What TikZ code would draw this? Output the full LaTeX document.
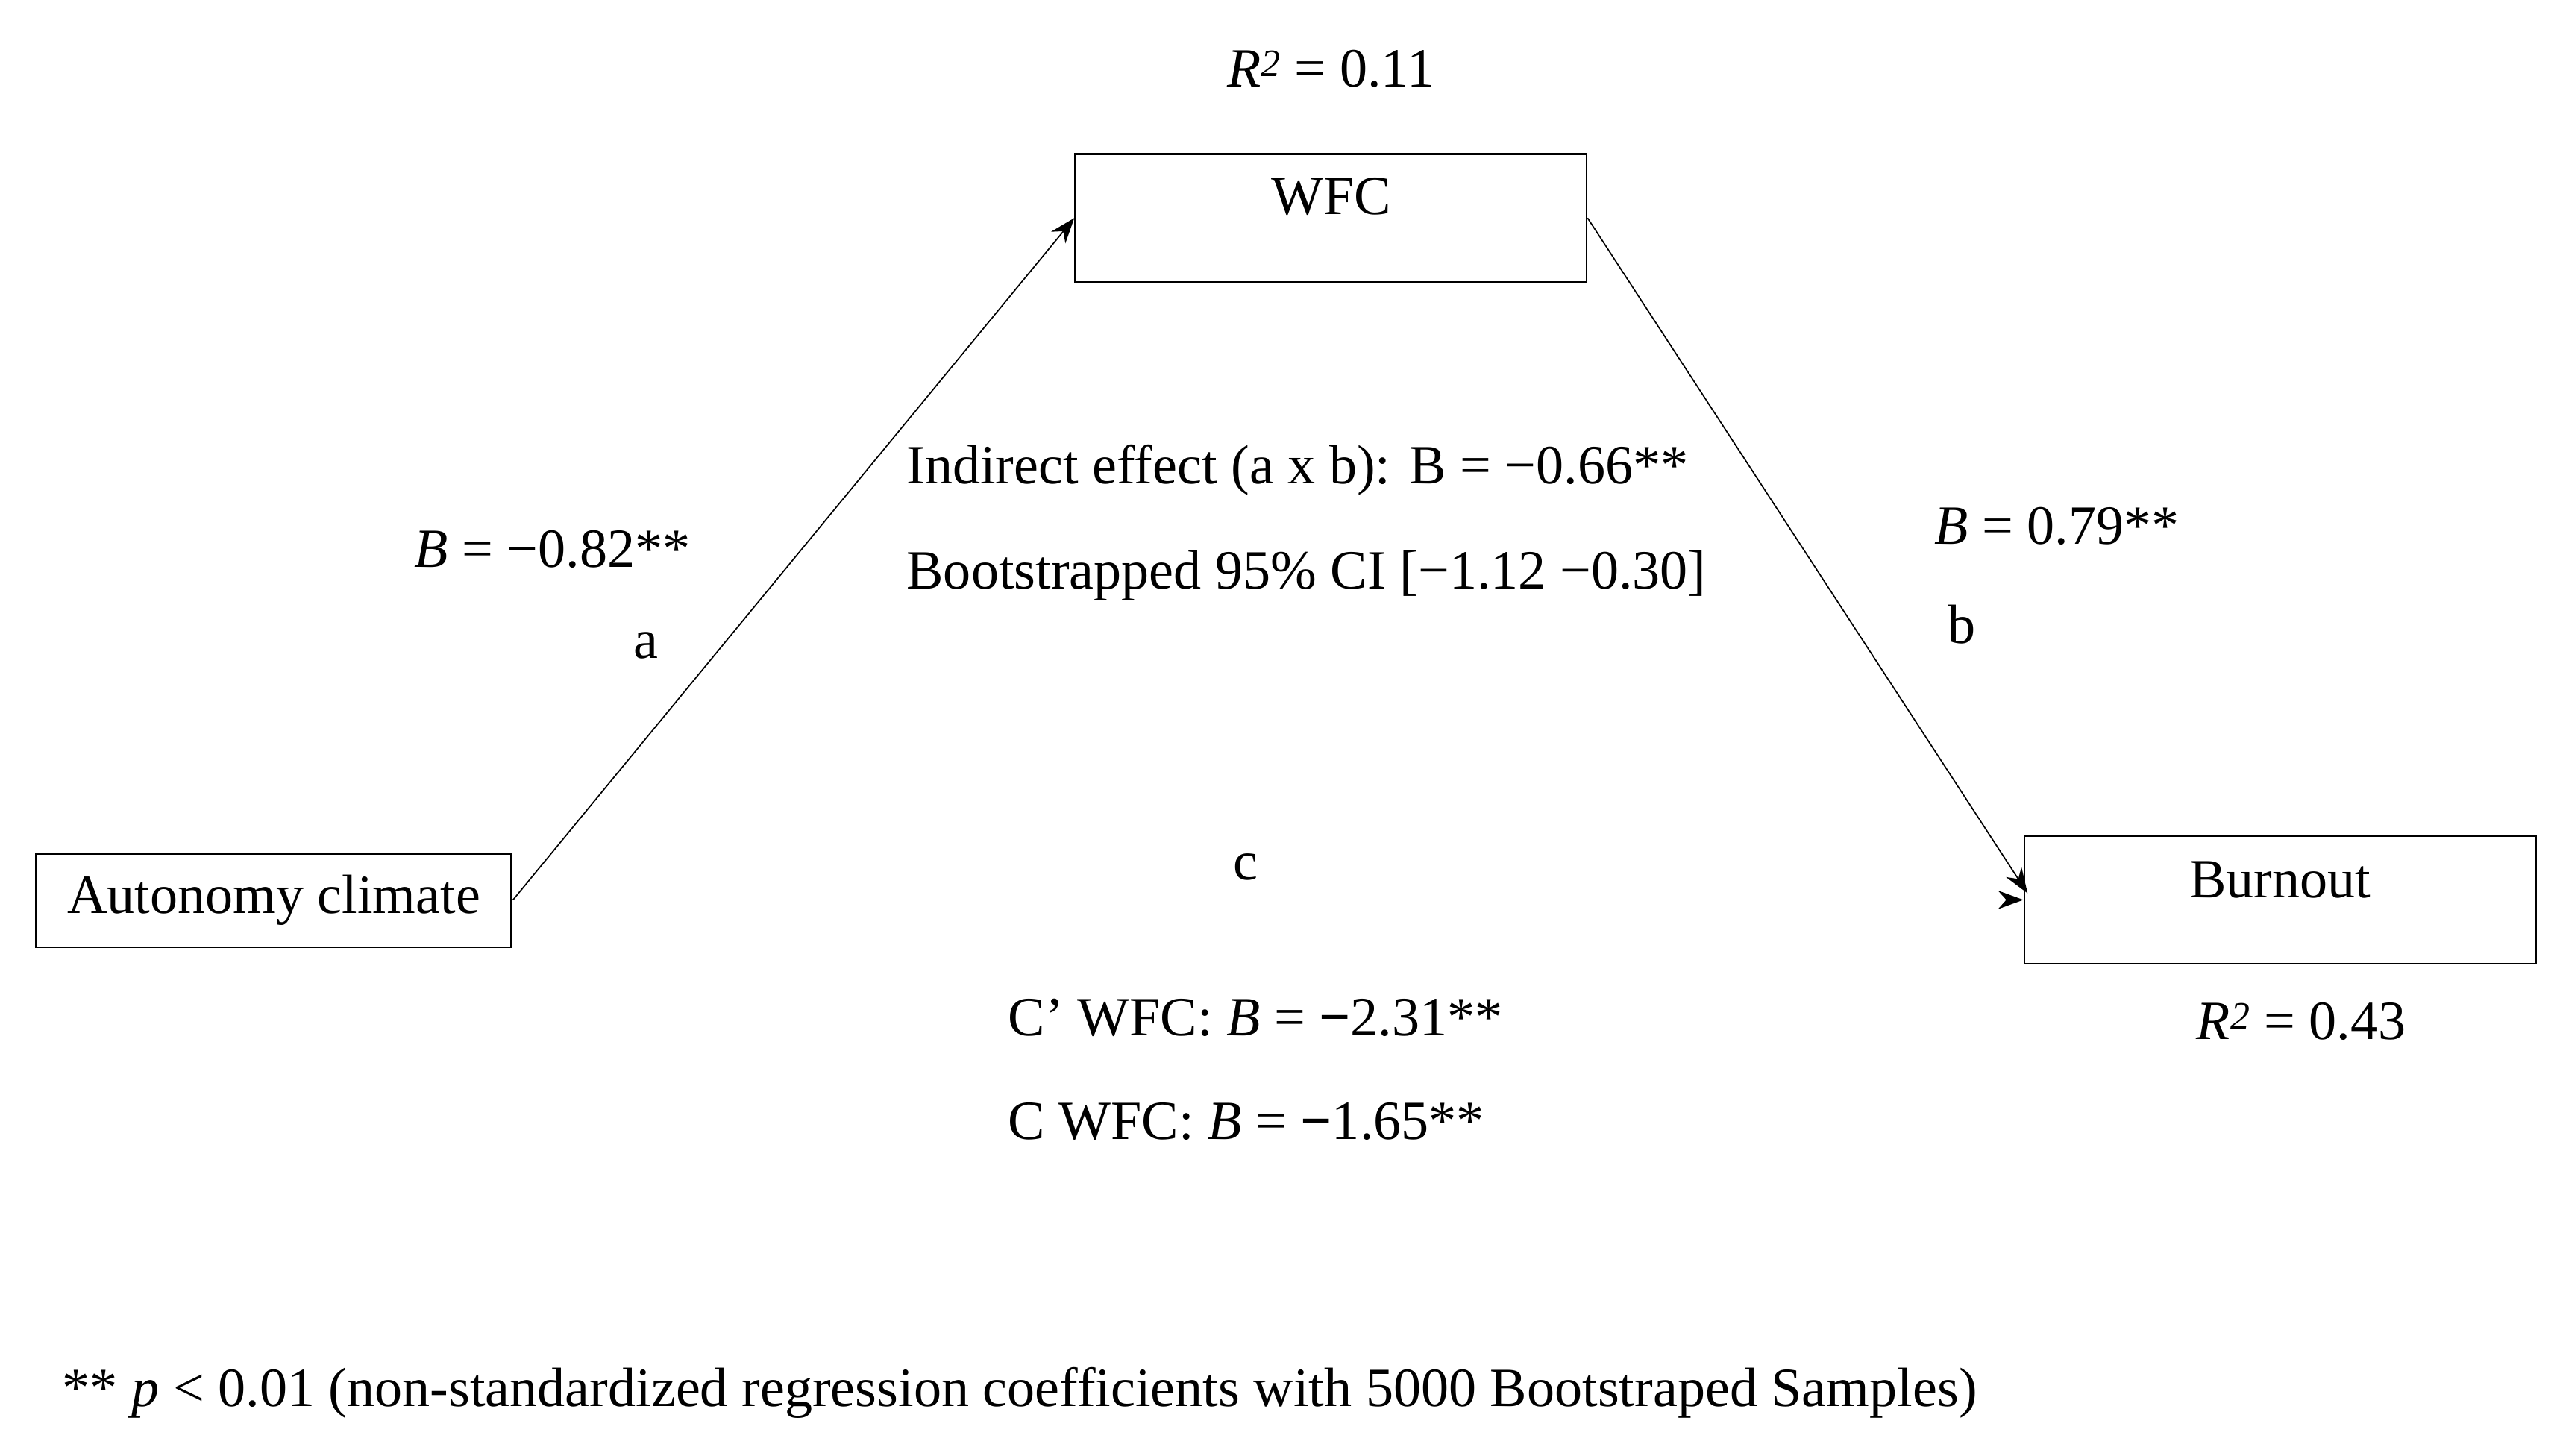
\documentclass[tikz,border=0pt]{standalone}
\usepackage{fontspec}
\setmainfont{Liberation Serif}
\usetikzlibrary{arrows.meta}
\begin{document}
\begin{tikzpicture}[x=0.05cm,y=-0.05cm,
  lbl/.style={font=\fontsize{48}{54}\selectfont, inner sep=0pt},
  box/.style={draw, line width=1.6pt, inner sep=0pt},
  conn/.style={line width=1.1pt, -{Stealth[length=22pt,width=16pt]}}]
\useasboundingbox (0,0) rectangle (1560,888);
\node[box, minimum width=312*0.05cm, minimum height=78*0.05cm] (wfc) at (812,133) {};
\node[box, minimum width=290*0.05cm, minimum height=57*0.05cm] (aut) at (167,549.5) {};
\node[box, minimum width=312*0.05cm, minimum height=78*0.05cm] (bur) at (1391,549) {};
\node[lbl] (twfc) at (812,120) {WFC};
\node[lbl] (taut) at (167,549) {Autonomy climate};
\node[lbl] (tbur) at (1391,537) {Burnout};
\coordinate (a0) at (313,549);
\coordinate (b1) at (1237,545);
\draw[conn] (a0) -- (wfc.west);
\draw[conn] (wfc.east) -- (b1);
\draw[conn] (a0) -- (bur.west);
\node[lbl] (r1) at (812,42) {\textit{R}\textsuperscript{\textit{2}} = 0.11};
\node[lbl] (r2) at (1404,623) {\textit{R}\textsuperscript{\textit{2}} = 0.43};
\node[lbl] (ba) at (337,335) {\textit{B} = −0.82**};
\node[lbl] (la) at (394,394) {a};
\node[lbl, anchor=west] (ind) at (553,287) {Indirect effect (a x b): B = −0.66**};
\node[lbl, anchor=west] (boot) at (553,351) {Bootstrapped 95\% CI [−1.12 −0.30]};
\node[lbl] (bb) at (1255,321) {\textit{B} = 0.79**};
\node[lbl] (lb) at (1197,381) {b};
\node[lbl] (lc) at (760,529) {c};
\node[lbl, anchor=west] (cp) at (615,621) {C’ WFC: \textit{B} = \textbf{−}2.31**};
\node[lbl, anchor=west] (cc) at (615,684) {C WFC: \textit{B} = \textbf{−}1.65**};
\node[lbl, anchor=west] (fn) at (38,850) {** \textit{p} < 0.01 (non-standardized regression coefficients with 5000 Bootstraped Samples)};
\end{tikzpicture}
\end{document}
